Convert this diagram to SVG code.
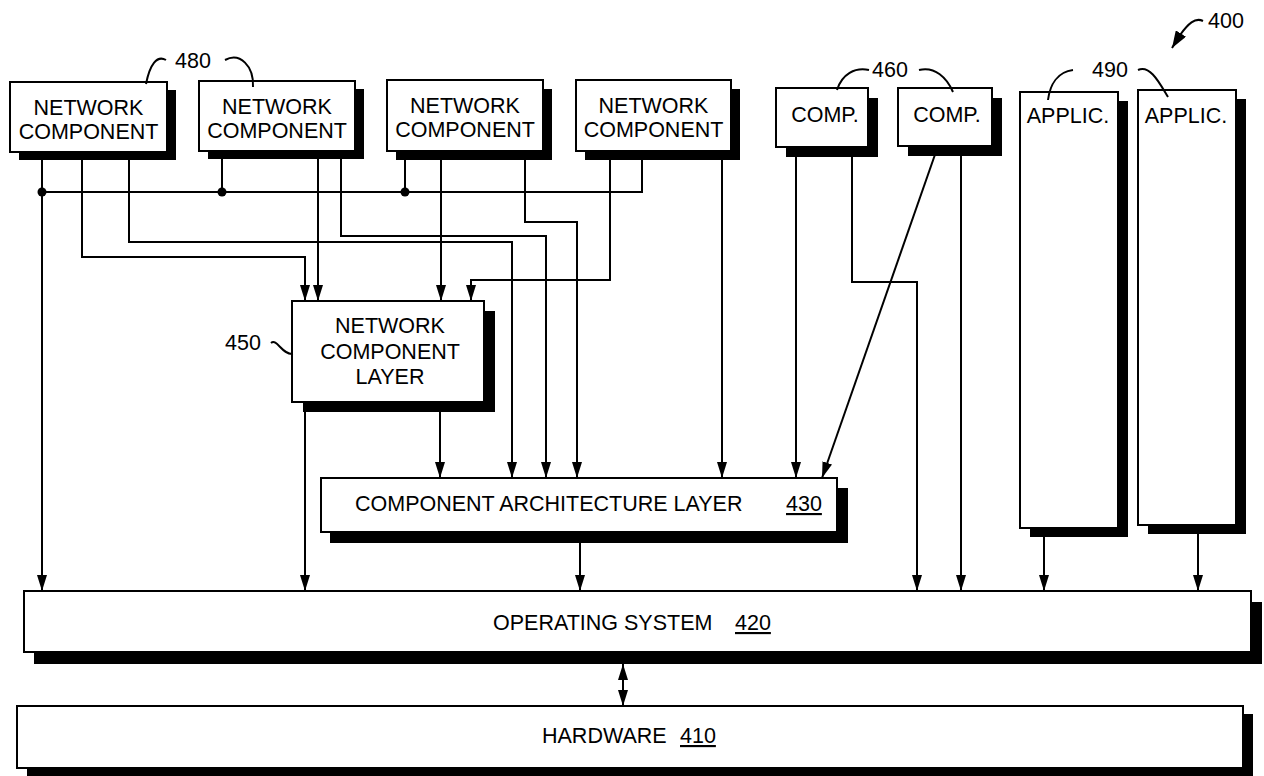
<svg xmlns="http://www.w3.org/2000/svg" width="1264" height="776" viewBox="0 0 1264 776">
<style>
.box{fill:#fff;stroke:#000;stroke-width:2}
.sh{fill:#000}
.t{font-family:"Liberation Sans",Arial,sans-serif;font-size:21.5px;fill:#000}
.c{text-anchor:middle}
.ln{fill:none;stroke:#000;stroke-width:2}
.ar{fill:none;stroke:#000;stroke-width:2;marker-end:url(#ah)}
.ld{fill:none;stroke:#000;stroke-width:2}
.u{text-decoration:underline}
</style>
<defs>
<marker id="ah" markerUnits="userSpaceOnUse" markerWidth="17" markerHeight="10" refX="16" refY="5" orient="auto">
<path d="M0,0 L16,5 L0,10 z" fill="#000"/>
</marker>
<marker id="ahs" markerUnits="userSpaceOnUse" markerWidth="17" markerHeight="10" refX="16" refY="5" orient="auto-start-reverse">
<path d="M0,0 L16,5 L0,10 z" fill="#000"/>
</marker>
<marker id="ahb" markerUnits="userSpaceOnUse" markerWidth="18" markerHeight="12" refX="17" refY="6" orient="auto">
<path d="M0,0 L17,6 L0,12 z" fill="#000"/>
</marker>
</defs>
<rect width="1264" height="776" fill="#fff"/>

<g id="nc1">
<rect class="sh" x="19" y="90" width="157" height="70"/>
<rect class="box" x="10" y="82" width="157" height="70"/>
<text class="t c" x="88.5" y="115">NETWORK</text>
<text class="t c" x="88.5" y="139">COMPONENT</text>
</g>
<g id="nc2">
<rect class="sh" x="208" y="89" width="156" height="70"/>
<rect class="box" x="199" y="81" width="156" height="70"/>
<text class="t c" x="277" y="114">NETWORK</text>
<text class="t c" x="277" y="138">COMPONENT</text>
</g>
<g id="nc3">
<rect class="sh" x="396" y="89" width="156" height="71"/>
<rect class="box" x="387" y="80" width="156" height="71"/>
<text class="t c" x="465" y="113">NETWORK</text>
<text class="t c" x="465" y="137">COMPONENT</text>
</g>
<g id="nc4">
<rect class="sh" x="585" y="89" width="155" height="71"/>
<rect class="box" x="576" y="80" width="155" height="71"/>
<text class="t c" x="653.5" y="113">NETWORK</text>
<text class="t c" x="653.5" y="137">COMPONENT</text>
</g>
<g id="comp1">
<rect class="sh" x="786" y="98" width="92" height="59"/>
<rect class="box" x="776" y="88" width="92" height="59"/>
<text class="t c" x="825" y="122">COMP.</text>
</g>
<g id="comp2">
<rect class="sh" x="908" y="98" width="94" height="58"/>
<rect class="box" x="898" y="88" width="94" height="58"/>
<text class="t c" x="947" y="122">COMP.</text>
</g>
<g id="applic1">
<rect class="sh" x="1030" y="101" width="98" height="436"/>
<rect class="box" x="1020" y="92" width="98" height="436"/>
<text class="t c" x="1068" y="123">APPLIC.</text>
</g>
<g id="applic2">
<rect class="sh" x="1148" y="99" width="98" height="435"/>
<rect class="box" x="1138" y="90" width="98" height="435"/>
<text class="t c" x="1186" y="123">APPLIC.</text>
</g>
<g id="ncl">
<rect class="sh" x="303" y="311" width="192" height="101"/>
<rect class="box" x="292" y="301" width="192" height="101"/>
<text class="t c" x="390" y="333">NETWORK</text>
<text class="t c" x="390" y="359">COMPONENT</text>
<text class="t c" x="390" y="384">LAYER</text>
</g>
<g id="cal">
<rect class="sh" x="330" y="488" width="518" height="55"/>
<rect class="box" x="321" y="478" width="516" height="54"/>
<text class="t" x="355" y="511">COMPONENT ARCHITECTURE LAYER</text>
<text class="t u" x="786" y="511">430</text>
</g>
<g id="os">
<rect class="sh" x="34" y="602" width="1228" height="62"/>
<rect class="box" x="24" y="591" width="1227" height="61"/>
<text class="t" x="493" y="630">OPERATING SYSTEM</text>
<text class="t u" x="735" y="630">420</text>
</g>
<g id="hw">
<rect class="sh" x="27" y="714" width="1226" height="66"/>
<rect class="box" x="17" y="706" width="1226" height="62"/>
<text class="t" x="542" y="743">HARDWARE</text>
<text class="t u" x="680" y="743">410</text>
</g>

<g id="labels">
<text class="t" x="1208" y="28">400</text>
<path class="ld" d="M1203,21 C1195,17 1188,24 1180,35 L1172,48" marker-end="url(#ahb)"/>
<text class="t" x="175" y="68">480</text>
<path class="ld" d="M166,60 C157,55 150,64 146,84"/>
<path class="ld" d="M225,60 C240,52 254,66 253,87"/>
<text class="t" x="872" y="77">460</text>
<path class="ld" d="M869,70 C855,67 842,74 837,90"/>
<path class="ld" d="M919,70 C935,66 947,78 953,92"/>
<text class="t" x="1092" y="77">490</text>
<path class="ld" d="M1073,70 C1058,72 1050,84 1048,100"/>
<path class="ld" d="M1138,70 C1150,64 1160,84 1168,97"/>
<text class="t" x="225" y="350">450</text>
<path class="ld" d="M271,343 C277,338 282,355 293,354"/>
</g>

<g id="connectors">
<path class="ln" d="M42,192 H642 V151"/>
<path class="ln" d="M222,151 V192 M405,151 V192"/>
<circle cx="42" cy="192" r="4.5"/>
<circle cx="222" cy="192" r="4.5"/>
<circle cx="405" cy="192" r="4.5"/>
<path class="ar" d="M42,152 V591"/>
<path class="ar" d="M82,152 V257 H305 V301"/>
<path class="ar" d="M129,152 V242 H512 V478"/>
<path class="ar" d="M318,151 V301"/>
<path class="ar" d="M341,151 V236 H546 V478"/>
<path class="ar" d="M441,151 V301"/>
<path class="ar" d="M525,151 V222 H577 V478"/>
<path class="ar" d="M610,151 V280 H471 V301"/>
<path class="ar" d="M722,151 V478"/>
<path class="ar" d="M305,402 V591"/>
<path class="ar" d="M440,402 V478"/>
<path class="ar" d="M580,532 V591"/>
<path class="ar" d="M796,147 V478"/>
<path class="ar" d="M852,147 V282 H917 V591"/>
<path class="ar" d="M938,146 L822,478"/>
<path class="ar" d="M961,146 V591"/>
<path class="ar" d="M1044,528 V591"/>
<path class="ar" d="M1198,525 V591"/>
<path class="ln" d="M623,664 V706" marker-start="url(#ahs)" marker-end="url(#ah)"/>
</g>
</svg>
